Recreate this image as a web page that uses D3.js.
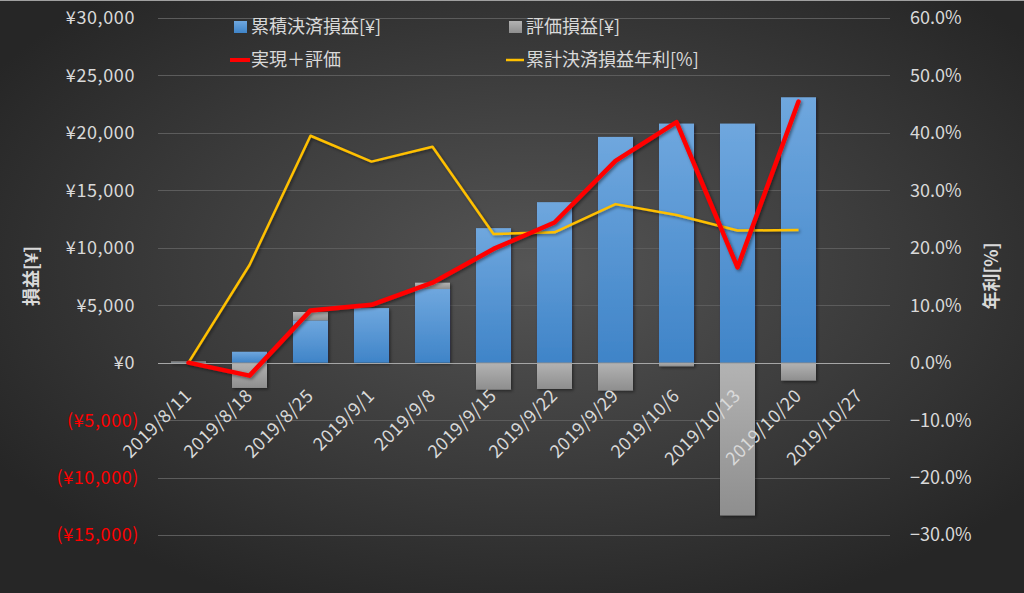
<!DOCTYPE html>
<html>
<head>
<meta charset="utf-8">
<script src="https://cdn.jsdelivr.net/npm/d3@7"></script>
<style>
html,body{margin:0;padding:0;background:#262626;}
svg{display:block;}
text{font-family:"Noto Sans CJK JP","Noto Sans",sans-serif;}
</style>
</head>
<body>
<svg id="chart" width="1024" height="593"></svg>
<script>
// ---- data ----
const dates = ["2019/8/11","2019/8/18","2019/8/25","2019/9/1","2019/9/8","2019/9/15","2019/9/22","2019/9/29","2019/10/6","2019/10/13","2019/10/20","2019/10/27"];
const realized   = [0, 950, 3680, 4750, 6410, 11710, 13970, 19650, 20810, 20810, 23100, null];   // 累積決済損益[¥]
const unrealized = [100, -2200, 730, 0, 550, -2350, -2290, -2430, -320, -13300, -1560, null];    // 評価損益[¥]
const total      = [0, -1130, 4550, 5040, 6960, 9900, 12200, 17560, 20930, 8290, 22730, null];   // 実現＋評価
const yieldPct   = [0, 17.0, 39.5, 35.0, 37.6, 22.4, 22.7, 27.6, 25.7, 23.0, 23.1, null];       // 累計決済損益年利[%]
const leftTicks  = [-15000, -10000, -5000, 0, 5000, 10000, 15000, 20000, 25000, 30000];
const rightTicks = [-30, -20, -10, 0, 10, 20, 30, 40, 50, 60];
const seriesNames = ["累積決済損益[¥]", "評価損益[¥]", "実現＋評価", "累計決済損益年利[%]"];

const svg = d3.select("#chart");
const W = 1024, H = 593;
const plot = {left: 158, right: 890, top: 18, bottom: 535};

const defs = svg.append("defs");
const bg = defs.append("radialGradient").attr("id","bg")
  .attr("cx","52%").attr("cy","45%").attr("r","62%");
bg.append("stop").attr("offset","0%").attr("stop-color","#555555");
bg.append("stop").attr("offset","100%").attr("stop-color","#262626");
const gBlue = defs.append("linearGradient").attr("id","gBlue").attr("x1",0).attr("y1",0).attr("x2",0).attr("y2",1);
gBlue.append("stop").attr("offset","0%").attr("stop-color","#6fa7de");
gBlue.append("stop").attr("offset","100%").attr("stop-color","#3f84c8");
const gGrey = defs.append("linearGradient").attr("id","gGrey").attr("x1",0).attr("y1",0).attr("x2",0).attr("y2",1);
gGrey.append("stop").attr("offset","0%").attr("stop-color","#b3b3b3");
gGrey.append("stop").attr("offset","100%").attr("stop-color","#8e8e8e");
const sh = defs.append("filter").attr("id","sh").attr("x","-20%").attr("y","-20%").attr("width","140%").attr("height","140%");
sh.append("feDropShadow").attr("dx",1.5).attr("dy",1.5).attr("stdDeviation",1.5).attr("flood-color","#000").attr("flood-opacity",0.45);

svg.append("rect").attr("width",W).attr("height",H).attr("fill","url(#bg)");
svg.append("line").attr("x1",0).attr("x2",W).attr("y1",0.5).attr("y2",0.5).attr("stroke","#a0a0a0").attr("stroke-width",1);

const x = d3.scaleBand().domain(dates).range([plot.left, plot.right]).paddingInner(0.426).paddingOuter(0.213);
const y = d3.scaleLinear().domain([-15000, 30000]).range([plot.bottom, plot.top]);
const y2 = d3.scaleLinear().domain([-30, 60]).range([plot.bottom, plot.top]);
const cx = d => x(d) + x.bandwidth()/2;

// gridlines
svg.append("g").selectAll("line").data(leftTicks.filter(t=>t!==0)).join("line")
  .attr("x1",plot.left).attr("x2",plot.right)
  .attr("y1",d=>Math.round(y(d))+0.5).attr("y2",d=>Math.round(y(d))+0.5)
  .attr("stroke","#5c5c5c").attr("stroke-width",1);

// bars (stacked)
const barData = [];
dates.forEach((d,i)=>{
  if (realized[i] == null) return;
  const r = realized[i], u = unrealized[i];
  barData.push({d, y0:0, y1:r, fill:"url(#gBlue)"});
  if (u > 0) barData.push({d, y0:r, y1:r+u, fill:"url(#gGrey)"});
  else if (u < 0) barData.push({d, y0:0, y1:u, fill:"url(#gGrey)"});
});
const barsG = svg.append("g").attr("filter","url(#sh)");
barsG.selectAll("rect").data(barData).join("rect")
  .attr("x",b=>x(b.d)).attr("width",x.bandwidth())
  .attr("y",b=>y(Math.max(b.y0,b.y1)))
  .attr("height",b=>Math.max(0.8, Math.abs(y(b.y0)-y(b.y1))))
  .attr("fill",b=>b.fill);

// zero axis line
svg.append("line").attr("x1",plot.left).attr("x2",plot.right)
  .attr("y1",Math.round(y(0))+0.5).attr("y2",Math.round(y(0))+0.5)
  .attr("stroke","#a6a6a6").attr("stroke-width",1);

// left axis labels
const fmtY = v => (v<0 ? "(¥" + d3.format(",")(-v) + ")" : "¥" + d3.format(",")(v));
svg.append("g").selectAll("text").data(leftTicks).join("text")
  .attr("x",d=>d<0?139:135).attr("y",d=>y(d)).attr("dy","0.36em")
  .attr("text-anchor","end").attr("font-size",18).attr("letter-spacing","0.6px")
  .attr("fill",d=>d<0?"#ff0000":"#d9d9d9").text(fmtY);

// right axis labels
svg.append("g").selectAll("text").data(rightTicks).join("text")
  .attr("x",910).attr("y",d=>y2(d)).attr("dy","0.36em")
  .attr("text-anchor","start").attr("font-size",18)
  .attr("fill","#d9d9d9").text(d=>d3.format(".1f")(d)+"%");

// axis titles
svg.append("text").attr("transform","translate(38,276) rotate(-90)")
  .attr("text-anchor","middle").attr("font-size",18).attr("font-weight","bold")
  .attr("fill","#d9d9d9").text("損益[¥]");
svg.append("text").attr("transform","translate(998,276) rotate(-90)")
  .attr("text-anchor","middle").attr("font-size",18).attr("font-weight","bold")
  .attr("fill","#d9d9d9").text("年利[%]");

// lines
const lineL = d3.line().defined(v=>v[1]!=null).x(v=>cx(v[0])).y(v=>y(v[1]));
const lineR = d3.line().defined(v=>v[1]!=null).x(v=>cx(v[0])).y(v=>y2(v[1]));
svg.append("path").datum(dates.map((d,i)=>[d,yieldPct[i]]))
  .attr("d",lineR).attr("fill","none").attr("stroke","#ffc000").attr("stroke-width",2.5)
  .attr("stroke-linejoin","round").attr("filter","url(#sh)");
svg.append("path").datum(dates.map((d,i)=>[d,total[i]]))
  .attr("d",lineL).attr("fill","none").attr("stroke","#ff0000").attr("stroke-width",4.5)
  .attr("stroke-linejoin","round").attr("stroke-linecap","round").attr("filter","url(#sh)");

// x labels
svg.append("g").selectAll("text").data(dates).join("text")
  .attr("transform",d=>`translate(${cx(d)+4},${397}) rotate(-45)`)
  .attr("text-anchor","end").attr("font-size",18).attr("letter-spacing","0.4px")
  .attr("fill","#d9d9d9").text(d=>d);

// legend
const lg = svg.append("g");
lg.append("rect").attr("x",234).attr("y",21).attr("width",13).attr("height",12).attr("fill","url(#gBlue)");
lg.append("rect").attr("x",509).attr("y",21).attr("width",13).attr("height",12).attr("fill","url(#gGrey)");
lg.append("line").attr("x1",230).attr("x2",250).attr("y1",60).attr("y2",60).attr("stroke","#ff0000").attr("stroke-width",4);
lg.append("line").attr("x1",506).attr("x2",524).attr("y1",60).attr("y2",60).attr("stroke","#ffc000").attr("stroke-width",2.5);
const legPos = [[251,27],[526,27],[251,60],[526,60]];
lg.selectAll("text").data(seriesNames).join("text")
  .attr("x",(d,i)=>legPos[i][0]).attr("y",(d,i)=>legPos[i][1]).attr("dy","0.36em")
  .attr("font-size",18).attr("fill","#d9d9d9").text(d=>d);
</script>
</body>
</html>
